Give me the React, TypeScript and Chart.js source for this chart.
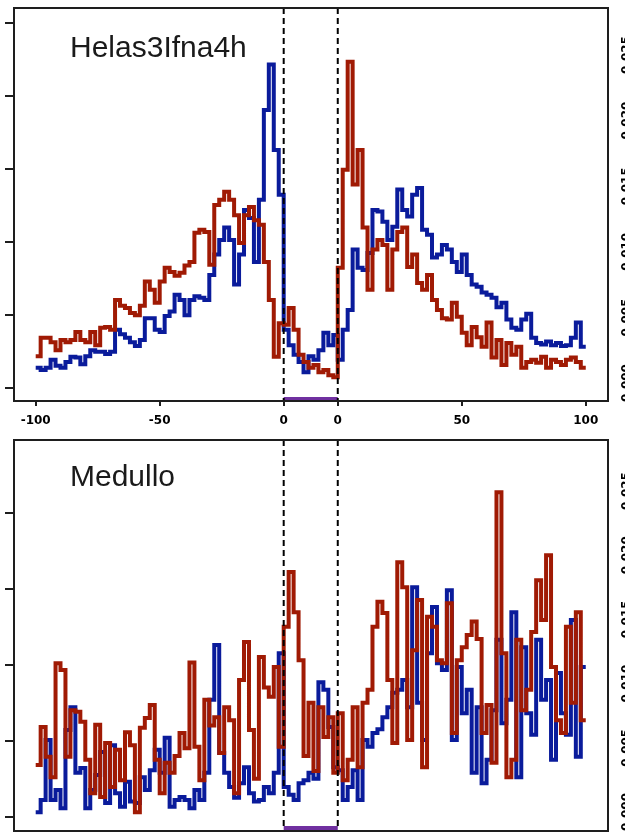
import React, { useEffect, useRef } from 'react';
import { Chart, registerables } from 'chart.js';

Chart.register(...registerables);

// ---- x layout: upstream (-100..0), gene body (0..GENE_SPAN), downstream (0..100) ----
const GENE_SPAN = 21.8;
const UP_POS = [-100, -98, -96, -94, -92, -90, -88, -86, -84, -82, -80, -78, -76, -74, -72, -70, -68, -66, -64, -62,
  -60, -58, -56, -54, -52, -50, -48, -46, -44, -42, -40, -38, -36, -34, -32, -30, -28, -26, -24, -22,
  -20, -18, -16, -14, -12, -10, -8, -6, -4, -2];
const GENE_POS = [0, 2, 4, 6, 8, 10, 12, 14, 16, 18, 20];
const DOWN_POS = [0, 2, 4, 6, 8, 10, 12, 14, 16, 18, 20, 22, 24, 26, 28, 30, 32, 34, 36, 38,
  40, 42, 44, 46, 48, 50, 52, 54, 56, 58, 60, 62, 64, 66, 68, 70, 72, 74, 76, 78,
  80, 82, 84, 86, 88, 90, 92, 94, 96, 98];
const DOWN_END = 100;

const X_TICKS = [-100, -50, 0, GENE_SPAN, GENE_SPAN + 50, GENE_SPAN + 100];
const X_TICK_LABELS = ['-100', '-50', '0', '0', '50', '100'];
const X_MIN = -108.75;
const X_MAX = 130.77;

const TOP_Y_TICKS = [0, 10, 20, 30, 40, 50];
const BOTTOM_Y_TICKS = [0, 10, 20, 30, 40];
const RIGHT_TICKS = [0, 1, 2, 3, 4, 5];
const RIGHT_LABELS = ['0.000', '0.005', '0.010', '0.015', '0.020', '0.025'];

const TITLES = ['Helas3Ifna4h', 'Medullo'];

// ---- top panel (Helas3Ifna4h) ----
const TOP_BLUE_UP = [2.8, 2.5, 2.8, 3.9, 3.1, 2.8, 3.6, 4.3, 4.2, 3.3,
  4.4, 5.2, 5.0, 5.0, 4.7, 5.0, 8.0, 7.4, 6.9, 6.3,
  5.8, 6.6, 9.6, 9.6, 8.0, 7.7, 9.9, 10.5, 12.8, 12.1,
  10.0, 12.1, 12.6, 12.4, 12.1, 15.5, 18.3, 20.3, 22.0, 20.3,
  14.2, 18.3, 24.4, 23.3, 17.3, 25.8, 38.1, 44.3, 32.6, 26.5];
const TOP_BLUE_GENE = [8.0, 5.9, 4.6, 3.6, 2.2, 4.4, 3.9, 5.2, 7.6, 5.9, 7.3];
const TOP_BLUE_DOWN = [3.9, 8.0, 10.7, 19.0, 16.5, 16.2, 18.5, 24.4, 24.2, 22.8,
  20.3, 22.1, 27.2, 24.4, 23.5, 26.5, 27.4, 21.7, 21.0, 17.9,
  18.3, 19.6, 19.0, 17.3, 15.9, 18.3, 15.5, 14.2, 13.9, 13.1,
  12.8, 12.4, 11.1, 11.7, 9.4, 8.3, 8.0, 9.4, 10.2, 6.9,
  6.2, 6.0, 6.4, 5.9, 6.2, 5.8, 5.9, 6.9, 9.0, 5.7];

const TOP_RED_UP = [4.4, 6.9, 6.9, 6.3, 5.2, 6.6, 6.3, 6.6, 7.7, 6.6,
  6.3, 7.7, 5.9, 8.3, 8.4, 8.0, 12.1, 11.3, 11.0, 10.3,
  10.0, 11.3, 14.6, 13.5, 11.7, 14.6, 16.5, 15.9, 15.4, 15.8,
  16.8, 17.3, 21.3, 21.7, 21.4, 16.9, 25.1, 25.8, 26.9, 25.8,
  23.7, 19.9, 23.7, 24.8, 23.0, 22.4, 17.3, 12.1, 4.3, 8.9];
const TOP_RED_GENE = [8.7, 11.0, 8.0, 4.6, 3.6, 2.8, 3.2, 2.2, 2.5, 1.8, 1.5];
const TOP_RED_DOWN = [16.5, 29.9, 44.7, 27.9, 32.6, 22.0, 13.5, 19.0, 20.3, 19.6,
  13.5, 19.0, 21.4, 22.0, 16.6, 18.3, 14.4, 13.5, 15.5, 12.1,
  10.7, 9.6, 9.4, 11.7, 9.8, 7.6, 5.9, 8.4, 7.0, 5.7,
  9.0, 4.2, 6.6, 3.2, 6.2, 4.6, 5.7, 2.8, 3.6, 3.9,
  3.5, 4.3, 2.8, 3.9, 3.6, 3.2, 3.9, 4.2, 3.6, 2.8];

// ---- bottom panel (Medullo) ----
const BOTTOM_BLUE_UP = [0.6, 2.2, 10.1, 2.2, 3.5, 1.1, 11.4, 14.4, 5.8, 6.4,
  1.1, 3.5, 5.5, 8.5, 1.8, 9.4, 3.1, 1.3, 4.6, 2.0,
  1.8, 5.2, 3.5, 6.1, 8.8, 5.8, 10.4, 1.3, 2.2, 2.6,
  2.2, 1.1, 3.5, 2.2, 5.8, 15.4, 22.6, 8.4, 5.8, 3.9,
  2.5, 4.4, 6.5, 3.1, 2.0, 2.2, 3.9, 3.1, 5.8, 21.5];
const BOTTOM_BLUE_GENE = [3.9, 2.9, 2.2, 4.4, 4.8, 5.8, 5.0, 17.7, 16.7, 11.8, 6.5];
const BOTTOM_BLUE_DOWN = [6.1, 2.2, 3.9, 6.1, 2.2, 10.1, 9.2, 11.0, 11.5, 13.1,
  14.4, 16.3, 16.7, 18.0, 14.4, 30.2, 15.0, 10.1, 21.5, 27.6,
  20.2, 19.3, 29.8, 10.1, 19.7, 13.6, 16.7, 5.8, 14.4, 4.4,
  7.5, 14.0, 23.3, 12.3, 15.4, 26.9, 5.2, 22.3, 13.6, 10.8,
  23.3, 15.4, 18.0, 7.5, 18.9, 13.6, 10.8, 25.9, 7.9, 19.7];

const BOTTOM_RED_UP = [6.8, 11.8, 7.9, 5.2, 20.2, 19.3, 7.9, 14.0, 13.8, 12.5,
  7.5, 3.1, 12.1, 2.6, 9.7, 3.9, 8.8, 4.8, 11.1, 9.4,
  0.6, 11.7, 13.0, 14.7, 7.5, 3.1, 7.1, 5.8, 8.0, 11.0,
  9.0, 20.3, 9.2, 4.8, 15.4, 12.0, 13.1, 8.4, 14.4, 12.7,
  3.1, 18.0, 23.0, 11.4, 5.0, 21.0, 17.0, 15.8, 19.7, 9.2];
const BOTTOM_RED_GENE = [25.0, 32.2, 26.9, 20.6, 8.0, 15.0, 6.0, 14.4, 10.5, 13.1, 5.8];
const BOTTOM_RED_DOWN = [13.6, 4.8, 7.5, 14.4, 6.5, 15.0, 16.7, 25.0, 28.3, 26.8,
  18.0, 9.7, 33.5, 30.2, 10.1, 21.9, 28.5, 6.5, 26.3, 25.0,
  20.6, 20.2, 28.1, 11.0, 20.6, 22.3, 23.9, 25.7, 23.4, 11.0,
  14.7, 7.1, 42.7, 21.5, 5.2, 7.5, 23.3, 14.0, 16.7, 24.3,
  31.1, 25.9, 34.4, 19.7, 12.7, 11.0, 25.0, 15.0, 26.9, 12.7];

const BLUE = '#0a1b9b';
const RED = '#a01a04';
const PURPLE = '#7030a0';
const INK = '#1e1e1e';

function series(up: number[], gene: number[], down: number[]) {
  const pts: { x: number; y: number }[] = [];
  up.forEach((v, i) => pts.push({ x: UP_POS[i], y: v }));
  gene.forEach((v, i) => pts.push({ x: GENE_POS[i], y: v }));
  down.forEach((v, i) => pts.push({ x: GENE_SPAN + DOWN_POS[i], y: v }));
  pts.push({ x: GENE_SPAN + DOWN_END, y: down[down.length - 1] });
  return pts;
}

const decorPlugin = {
  id: 'decor',
  afterDraw(chart: any, _args: any, opts: any) {
    const { ctx, chartArea: a, scales } = chart;
    const xs = scales.x;
    const yr = scales.yr;
    const gx0 = xs.getPixelForValue(0);
    const gx1 = xs.getPixelForValue(GENE_SPAN);
    ctx.save();
    // gene body bar
    ctx.fillStyle = PURPLE;
    ctx.fillRect(gx0, a.bottom - 1 - opts.barH, gx1 - gx0, opts.barH);
    // dashed gene boundaries
    ctx.strokeStyle = '#000';
    ctx.lineWidth = 2;
    ctx.setLineDash([6, 4]);
    ctx.beginPath();
    [gx0, gx1].forEach((gx) => {
      ctx.moveTo(gx, a.top);
      ctx.lineTo(gx, a.bottom);
    });
    ctx.stroke();
    ctx.setLineDash([]);
    // frame
    ctx.strokeStyle = INK;
    ctx.lineWidth = 2;
    ctx.strokeRect(a.left, a.top, a.right - a.left, a.bottom - a.top);
    // panel title
    ctx.fillStyle = '#1a1a1a';
    ctx.font = "30px 'Liberation Sans', Arial, sans-serif";
    ctx.textAlign = 'left';
    ctx.textBaseline = 'alphabetic';
    ctx.fillText(opts.title, opts.titleX, opts.titleY);
    // right-side axis labels, mostly cut off by the page edge
    ctx.fillStyle = '#000';
    ctx.font = "bold 12px 'DejaVu Sans', sans-serif";
    ctx.textAlign = 'center';
    ctx.textBaseline = 'middle';
    RIGHT_TICKS.forEach((v, i) => {
      const py = yr.getPixelForValue(v);
      ctx.save();
      ctx.translate(627, py);
      ctx.rotate(-Math.PI / 2);
      ctx.fillText(RIGHT_LABELS[i], 0, 0);
      ctx.restore();
    });
    ctx.restore();
  },
};

function makeConfig(p: any) {
  const line = (data: any, color: string) => ({
    data,
    borderColor: color,
    backgroundColor: color,
    borderWidth: 4,
    pointRadius: 0,
    stepped: true,
    fill: false,
    borderJoinStyle: 'miter',
    borderCapStyle: 'butt',
  });
  return {
    type: 'line',
    data: {
      datasets: [line(p.red, RED), line(p.blue, BLUE)],
    },
    options: {
      responsive: false,
      maintainAspectRatio: false,
      animation: false,
      events: [],
      layout: { padding: p.padding },
      plugins: {
        legend: { display: false },
        tooltip: { enabled: false },
        decor: { title: p.title, titleX: p.titleX, titleY: p.titleY, barH: p.barH },
      },
      scales: {
        x: {
          type: 'linear',
          min: X_MIN,
          max: X_MAX,
          display: p.showX,
          afterBuildTicks: (s: any) => {
            s.ticks = X_TICKS.map((v) => ({ value: v }));
          },
          afterFit: (s: any) => {
            s.height = p.xHeight;
          },
          ticks: {
            autoSkip: false,
            maxRotation: 0,
            minRotation: 0,
            padding: 8,
            color: '#000',
            font: { size: 12, weight: 'bold', family: "'DejaVu Sans', sans-serif" },
            callback: (_v: any, i: number) => X_TICK_LABELS[i],
          },
          grid: { drawOnChartArea: false, drawTicks: true, tickLength: 5, color: INK, lineWidth: 2 },
          border: { display: false },
        },
        y: {
          type: 'linear',
          position: 'left',
          min: p.yMin,
          max: p.yMax,
          afterBuildTicks: (s: any) => {
            s.ticks = p.yTicks.map((v: number) => ({ value: v }));
          },
          afterFit: (s: any) => {
            s.width = 14;
          },
          ticks: { display: false },
          grid: { drawOnChartArea: false, drawTicks: true, tickLength: 9, color: INK, lineWidth: 2 },
          border: { display: false },
        },
        yr: {
          type: 'linear',
          position: 'right',
          display: false,
          min: p.yrMin,
          max: p.yrMax,
        },
      },
    },
    plugins: [decorPlugin],
  };
}

function Panel({ top, height, p }: { top: number; height: number; p: any }) {
  const ref = useRef<HTMLCanvasElement | null>(null);
  useEffect(() => {
    if (!ref.current) return;
    const chart = new Chart(ref.current, makeConfig(p) as any);
    return () => chart.destroy();
  }, []);
  return (
    <div style={{ position: 'absolute', left: 0, top, width: 625, height, overflow: 'hidden' }}>
      <canvas ref={ref} width={625} height={height} style={{ display: 'block', width: 625, height }} />
    </div>
  );
}

const TOP_PANEL = {
  red: series(TOP_RED_UP, TOP_RED_GENE, TOP_RED_DOWN),
  blue: series(TOP_BLUE_UP, TOP_BLUE_GENE, TOP_BLUE_DOWN),
  padding: { top: 8, right: 17, bottom: 0, left: 0 },
  showX: true,
  xHeight: 36,
  yMin: -1.74,
  yMax: 52.05,
  yTicks: TOP_Y_TICKS,
  yrMin: -0.274,
  yrMax: 5.716,
  title: TITLES[0],
  titleX: 70,
  titleY: 57,
  barH: 3,
};

const BOTTOM_PANEL = {
  red: series(BOTTOM_RED_UP, BOTTOM_RED_GENE, BOTTOM_RED_DOWN),
  blue: series(BOTTOM_BLUE_UP, BOTTOM_BLUE_GENE, BOTTOM_BLUE_DOWN),
  padding: { top: 3, right: 17, bottom: 1, left: 0 },
  showX: false,
  xHeight: 0,
  yMin: -1.88,
  yMax: 49.57,
  yTicks: BOTTOM_Y_TICKS,
  yrMin: -0.296,
  yrMax: 5.794,
  title: TITLES[1],
  titleX: 70,
  titleY: 48.5,
  barH: 4,
};

export default function App() {
  return (
    <div style={{ position: 'absolute', left: 0, top: 0, width: 625, height: 832, background: '#fff' }}>
      <Panel top={0} height={437} p={TOP_PANEL} />
      <Panel top={437} height={395} p={BOTTOM_PANEL} />
    </div>
  );
}
